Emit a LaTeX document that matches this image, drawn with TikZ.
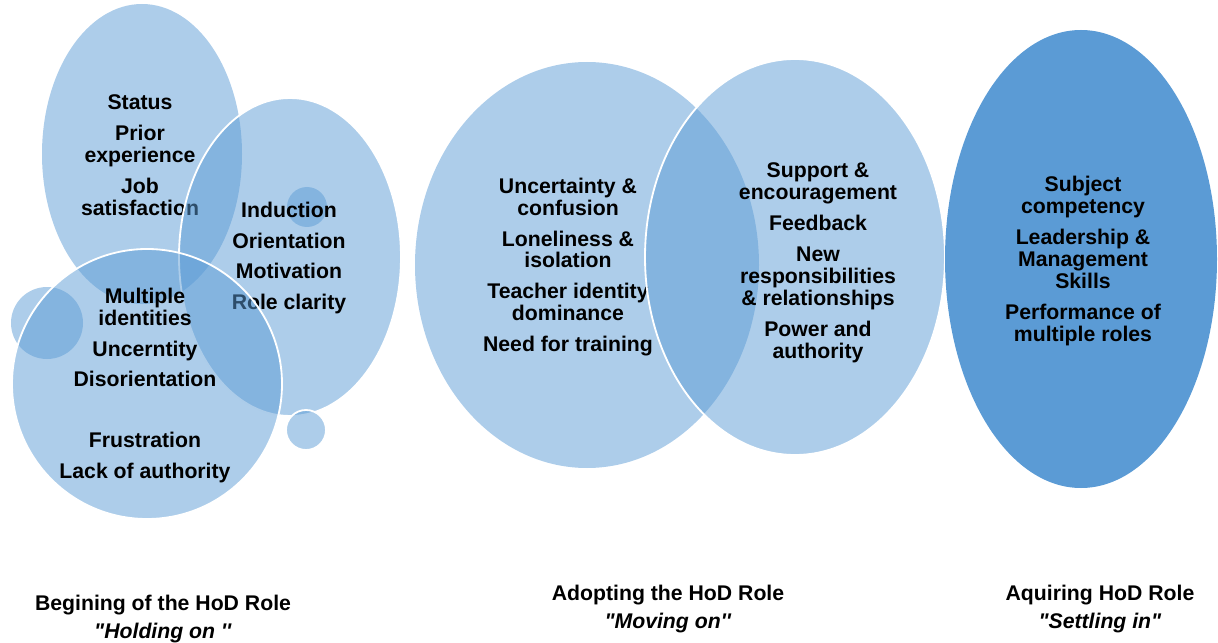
\documentclass[tikz,border=0pt]{standalone}
\usepackage{fontspec}
\setmainfont{Liberation Sans}
\definecolor{hodblue}{HTML}{5B9BD5}
\tikzset{
  bubble/.style={fill=hodblue, fill opacity=0.5},
  rim/.style={draw=white, line width=1.3pt},
  words/.style={align=center, inner sep=0pt, font=\bfseries\fontsize{15.1}{15.6}\selectfont},
  caption/.style={align=center, inner sep=0pt, font=\bfseries\fontsize{15.1}{20.6}\selectfont},
}
\begin{document}
\begin{tikzpicture}[x=0.025cm, y=-0.025cm]
  \useasboundingbox (0,0) rectangle (1218,643);
  % holding on: three overlapping bubbles
  \fill[bubble] (142,154) ellipse[x radius=100, y radius=150];
  \fill[bubble] (47,323) circle[radius=36];
  \node[words] (status) at (140,155.5)
    {Status\\[6.4pt]Prior\\experience\\[6.4pt]Job\\satisfaction};
  \filldraw[bubble, rim] (290,257) ellipse[x radius=111, y radius=159];
  \fill[bubble] (307,207) circle[radius=20];
  \node[words] (induction) at (289,258)
    {Induction\\[6.4pt]Orientation\\[6.4pt]Motivation\\[6.4pt]Role clarity};
  \filldraw[bubble, rim] (306,430) circle[radius=20];
  \filldraw[bubble, rim] (147,384) circle[radius=135];
  \node[words] (multiple) at (145,385.5)
    {Multiple\\identities\\[6.4pt]Uncerntity\\[6.4pt]Disorientation\\[27.7pt]Frustration\\[6.4pt]Lack of authority};
  % moving on
  \fill[bubble] (587,265) ellipse[x radius=172, y radius=203];
  \node[words] (uncertainty) at (568,267)
    {Uncertainty \&\\confusion\\[6.4pt]Loneliness \&\\isolation\\[6.4pt]Teacher identity\\dominance\\[6.4pt]Need for training};
  \filldraw[bubble, rim] (795,257) ellipse[x radius=150, y radius=198];
  \node[words] (support) at (818,263)
    {Support \&\\encouragement\\[6.4pt]Feedback\\[6.4pt]New\\responsibilities\\\& relationships\\[6.4pt]Power and\\authority};
  % settling in
  \fill[hodblue] (1081,259) ellipse[x radius=136, y radius=229];
  \node[words] (subject) at (1083,261)
    {Subject\\competency\\[6.4pt]Leadership \&\\Management\\Skills\\[6.4pt]Performance of\\multiple roles};
  % stage captions
  \node[caption] (stageone) at (163,619)
    {Begining of the HoD Role\\\textit{\textquotedbl Holding on \textquotesingle\textquotesingle}};
  \node[caption] (stagetwo) at (668,609)
    {Adopting the HoD Role\\\textit{\textquotedbl Moving on\textquotesingle\textquotesingle}};
  \node[caption] (stagethree) at (1100,609)
    {Aquiring HoD Role\\\textit{\textquotedbl Settling in\textquotedbl}};
\end{tikzpicture}
\end{document}
